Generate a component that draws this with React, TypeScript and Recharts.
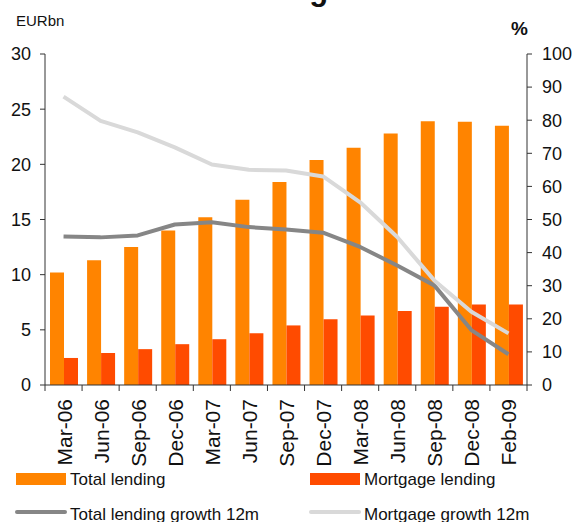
import { ComposedChart, Bar, Line, XAxis, YAxis } from 'recharts';

const months = ['Mar-06', 'Jun-06', 'Sep-06', 'Dec-06', 'Mar-07', 'Jun-07', 'Sep-07', 'Dec-07', 'Mar-08', 'Jun-08', 'Sep-08', 'Dec-08', 'Feb-09'];
const totalLending = [10.2, 11.3, 12.5, 14.0, 15.2, 16.8, 18.4, 20.4, 21.5, 22.8, 23.9, 23.85, 23.5];
const mortgageLending = [2.45, 2.9, 3.25, 3.7, 4.15, 4.7, 5.4, 5.95, 6.3, 6.7, 7.1, 7.3, 7.3];
const totalGrowth = [44.9, 44.6, 45.2, 48.5, 49.2, 47.7, 47.0, 46.0, 41.7, 36.1, 30.1, 16.6, 9.3];
const mortgageGrowth = [87.1, 79.8, 76.3, 71.8, 66.6, 65.0, 64.8, 63.0, 55.2, 44.7, 31.6, 22.1, 15.6];
const leftTicks = [0, 5, 10, 15, 20, 25, 30];
const rightTicks = [0, 10, 20, 30, 40, 50, 60, 70, 80, 90, 100];

const data = months.map((m, i) => ({
  month: m,
  total: totalLending[i],
  mortgage: mortgageLending[i],
  totalGrowth: totalGrowth[i],
  mortgageGrowth: mortgageGrowth[i],
}));

const FONT = '"Liberation Sans", Arial, sans-serif';
const AXIS = '#333';
const W = 576;
const H = 522;
const LEFT_W = 45;
const RIGHT_W = 49;
const BAND = (W - LEFT_W - RIGHT_W) / months.length;

function MonthTick(props: any) {
  const { x, y, payload, index } = props;
  const last = index === months.length - 1;
  return (
    <g>
      <line x1={x - BAND / 2} x2={x - BAND / 2} y1={y} y2={y + 6} stroke={AXIS} />
      {last && <line x1={x + BAND / 2} x2={x + BAND / 2} y1={y} y2={y + 6} stroke={AXIS} />}
      <text
        x={x}
        y={y + 14}
        dy={8}
        transform={`rotate(-90, ${x}, ${y + 14})`}
        textAnchor="end"
        fontSize={21}
        fill="#111"
        fontFamily={FONT}
      >
        {payload.value}
      </text>
    </g>
  );
}

const legendText = { fontSize: 17, color: '#111', position: 'absolute' as const, whiteSpace: 'nowrap' as const, lineHeight: '20px' };

export default function App() {
  return (
    <div style={{ position: 'absolute', left: 0, top: 0, width: W, height: H, overflow: 'hidden', background: '#fff', fontFamily: FONT }}>
      <svg width={W} height={20} style={{ position: 'absolute', left: 0, top: 0 }}>
        <text x={68} y={0} fontSize={31} fontWeight="bold" fill="#111" fontFamily={FONT}>
          Ukrainian lending market
        </text>
      </svg>
      <div style={{ position: 'absolute', left: 16, top: 12, fontSize: 15, color: '#111' }}>EURbn</div>
      <div style={{ position: 'absolute', left: 511, top: 18, fontSize: 19, fontWeight: 'bold', color: '#111' }}>%</div>
      <ComposedChart
        width={W}
        height={H}
        data={data}
        margin={{ top: 54, right: 0, left: 0, bottom: 0 }}
        barCategoryGap={5}
        barGap={0}
      >
        <XAxis
          dataKey="month"
          height={H - 385}
          axisLine={{ stroke: AXIS }}
          tickLine={false}
          tickSize={0}
          tickMargin={0}
          interval={0}
          tick={<MonthTick />}
        />
        <YAxis
          yAxisId="left"
          width={LEFT_W}
          domain={[0, 30]}
          ticks={leftTicks}
          axisLine={{ stroke: AXIS }}
          tickLine={{ stroke: AXIS }}
          tickSize={5}
          tickMargin={9}
          tick={{ fill: '#111', fontSize: 18, fontFamily: FONT }}
        />
        <YAxis
          yAxisId="right"
          orientation="right"
          width={RIGHT_W}
          domain={[0, 100]}
          ticks={rightTicks}
          axisLine={{ stroke: AXIS }}
          tickLine={{ stroke: AXIS }}
          tickSize={5}
          tickMargin={10}
          tick={{ fill: '#111', fontSize: 18, fontFamily: FONT, textAnchor: 'start' }}
        />
        <Bar yAxisId="left" dataKey="total" fill="#ff8400" isAnimationActive={false} />
        <Bar yAxisId="left" dataKey="mortgage" fill="#ff4b00" isAnimationActive={false} />
        <Line
          yAxisId="right"
          dataKey="totalGrowth"
          type="linear"
          stroke="#868686"
          strokeWidth={4}
          strokeLinejoin="round"
          dot={false}
          isAnimationActive={false}
        />
        <Line
          yAxisId="right"
          dataKey="mortgageGrowth"
          type="linear"
          stroke="#d9d9d9"
          strokeWidth={4}
          strokeLinejoin="round"
          dot={false}
          isAnimationActive={false}
        />
      </ComposedChart>
      <div style={{ position: 'absolute', left: 16, top: 473, width: 50, height: 12, background: '#ff8400' }} />
      <div style={{ ...legendText, left: 70, top: 470 }}>Total lending</div>
      <div style={{ position: 'absolute', left: 310, top: 473, width: 50, height: 12, background: '#ff4b00' }} />
      <div style={{ ...legendText, left: 364, top: 470 }}>Mortgage lending</div>
      <div style={{ position: 'absolute', left: 15, top: 510, width: 52, height: 4, borderRadius: 2, background: '#868686' }} />
      <div style={{ ...legendText, left: 70, top: 505 }}>Total lending growth 12m</div>
      <div style={{ position: 'absolute', left: 309, top: 510, width: 52, height: 4, borderRadius: 2, background: '#d9d9d9' }} />
      <div style={{ ...legendText, left: 364, top: 505 }}>Mortgage growth 12m</div>
    </div>
  );
}
